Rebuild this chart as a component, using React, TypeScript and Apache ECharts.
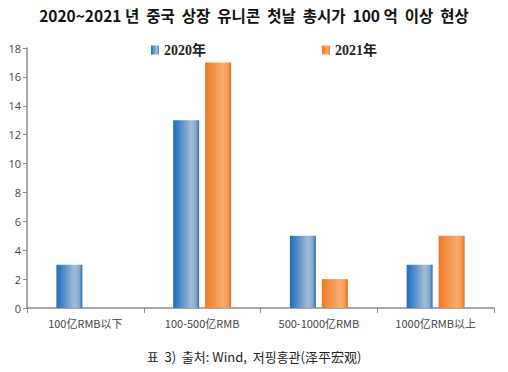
import React, { useEffect, useRef } from "react";
import * as echarts from "echarts";

const categories = ["100亿RMB以下", "100-500亿RMB", "500-1000亿RMB", "1000亿RMB以上"];
const series2020 = [3, 13, 5, 3];
const series2021 = [0, 17, 2, 5];
const seriesNames = ["2020年", "2021年"];
const yMax = 18;
const yInterval = 2;

const blueGrad = () =>
  new echarts.graphic.LinearGradient(0, 0, 1, 0, [
    { offset: 0, color: "#276cbb" },
    { offset: 0.2, color: "#3f82c8" },
    { offset: 0.7, color: "#a4bdd5" },
    { offset: 0.88, color: "#86a8cc" },
    { offset: 1, color: "#2a6ab2" },
  ]);
const orangeGrad = () =>
  new echarts.graphic.LinearGradient(0, 0, 1, 0, [
    { offset: 0, color: "#ec7627" },
    { offset: 0.2, color: "#f08a3c" },
    { offset: 0.7, color: "#f7ac6e" },
    { offset: 0.88, color: "#f39a55" },
    { offset: 1, color: "#e06e1e" },
  ]);

export default function App() {
  const ref = useRef<HTMLDivElement>(null);
  useEffect(() => {
    if (!ref.current) return;
    const chart = echarts.init(ref.current, undefined, { renderer: "svg" });
    chart.setOption({
      animation: false,
      backgroundColor: "#ffffff",
      title: [
        {
          text: "2020~2021 년  중국  상장  유니콘  첫날  총시가  100 억  이상  현상",
          left: "center",
          top: 2,
          textStyle: {
            fontFamily: "Noto Sans CJK KR",
            fontSize: 15.5,
            fontWeight: "bold",
            color: "#111",
          },
        },
        {
          text: "표  3)  출처: Wind,  저핑홍관(泽平宏观)",
          left: "center",
          top: 345,
          textStyle: {
            fontFamily: "Noto Sans CJK KR",
            fontSize: 13,
            fontWeight: "normal",
            color: "#222",
          },
        },
      ],
      legend: [
        {
          data: [seriesNames[0]],
          left: 146,
          top: 38,
          icon: "rect",
          itemWidth: 8,
          itemHeight: 9,
          itemGap: 4,
          textStyle: {
            fontFamily: "Liberation Serif, Noto Sans CJK SC",
            fontWeight: "bold",
            fontSize: 14,
            color: "#222",
          },
        },
        {
          data: [seriesNames[1]],
          left: 317,
          top: 38,
          icon: "rect",
          itemWidth: 8,
          itemHeight: 9,
          itemGap: 4,
          textStyle: {
            fontFamily: "Liberation Serif, Noto Sans CJK SC",
            fontWeight: "bold",
            fontSize: 14,
            color: "#222",
          },
        },
      ],
      grid: { left: 27, right: 14, top: 48, bottom: 64, containLabel: false },
      xAxis: {
        type: "category",
        data: categories,
        axisLine: { show: true, lineStyle: { color: "#8c8c8c", width: 1.5 } },
        axisTick: { show: true, alignWithLabel: false, length: 5, lineStyle: { color: "#8c8c8c" } },
        axisLabel: {
          fontFamily: "Noto Sans CJK SC",
          fontSize: 11,
          color: "#444",
          margin: 9,
        },
      },
      yAxis: {
        type: "value",
        min: 0,
        max: yMax,
        interval: yInterval,
        splitLine: { show: false },
        axisLine: { show: true, lineStyle: { color: "#8c8c8c", width: 1.5 } },
        axisTick: { show: true, length: 4, inside: false, lineStyle: { color: "#8c8c8c" } },
        axisLabel: {
          fontFamily: "Open Sans",
          fontSize: 11,
          color: "#444",
          margin: 6,
        },
      },
      series: [
        {
          name: seriesNames[0],
          type: "bar",
          data: series2020,
          barWidth: 26,
          barGap: "23%",
          itemStyle: { color: blueGrad() },
        },
        {
          name: seriesNames[1],
          type: "bar",
          data: series2021,
          barWidth: 26,
          itemStyle: { color: orangeGrad() },
        },
      ],
    });
    return () => chart.dispose();
  }, []);
  return <div ref={ref} style={{ width: 508, height: 372, position: "absolute", left: 0, top: 0 }} />;
}
